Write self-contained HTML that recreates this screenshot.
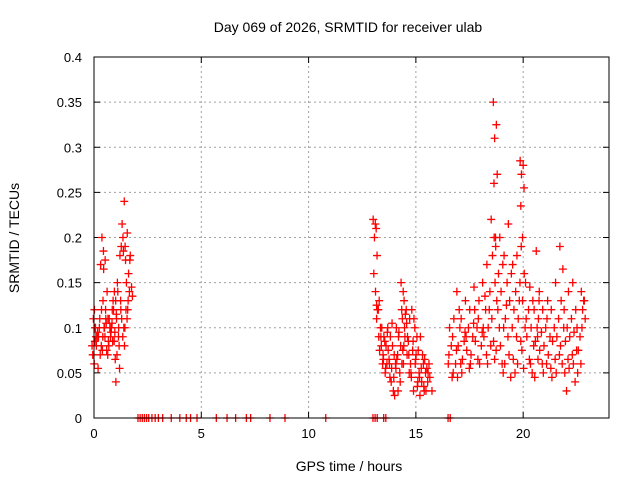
<!DOCTYPE html>
<html><head><meta charset="utf-8"><style>
html,body{margin:0;padding:0;background:#fff;}
svg{display:block;font-family:"Liberation Sans",sans-serif;}
</style></head><body>
<svg id="chart" width="640" height="480">
<rect width="640" height="480" fill="#fff"/>
<text x="348" y="32" font-size="14" text-anchor="middle">Day 069 of 2026, SRMTID for receiver ulab</text>
<text transform="translate(19,238) rotate(-90)" font-size="14" text-anchor="middle">SRMTID / TECUs</text>
<text x="349" y="471" font-size="14" text-anchor="middle">GPS time / hours</text>
<g id="grid"></g>
<g id="ticks"></g>
<g id="marks"></g>
<rect x="94" y="57" width="515" height="361" fill="none" stroke="#000" stroke-width="1"/>
</svg>
<script>
const xTicks=[0,5,10,15,20];
const yTicks=[0,0.05,0.1,0.15,0.2,0.25,0.3,0.35,0.4];
const yTickLabels=["0","0.05","0.1","0.15","0.2","0.25","0.3","0.35","0.4"];
const zeroHours=[2.05,2.15,2.25,2.35,2.45,2.55,2.7,2.85,3.0,3.2,3.6,4.0,4.3,4.5,4.8,5.7,6.2,6.6,7.1,7.3,8.2,8.9,10.8,13.0,13.1,13.2,13.5,13.6,16.5,16.6];
const groupHours=[0.0,0.1,0.2,0.3,0.4,0.5,0.6,0.7,0.8,0.9,1.0,1.1,1.2,1.3,1.4,1.5,1.6,1.7,
13.1,13.2,13.3,13.4,13.5,13.6,13.7,13.8,13.9,14.0,14.1,14.2,14.3,14.4,14.5,14.6,14.7,14.8,14.9,15.0,15.1,15.2,15.3,15.4,15.5,15.6,15.7,
16.6,16.8,17.0,17.2,17.4,17.6,17.8,18.0,18.2,18.4,18.6,18.7,18.8,19.0,19.2,19.4,19.6,19.8,19.95,20.0,20.2,20.4,20.6,20.7,20.8,21.0,21.2,21.4,21.6,21.8,22.0,22.2,22.4,22.6,22.8];
const groupValues=[
[.08,.1,.11,.09,.07,.12],[.06,.09,.1,.055,.085],[.08,.1,.095,.07],[.09,.12,.11,.075],[.17,.165,.2,.1,.08,.13],[.09,.11,.1,.075,.185,.175],[.09,.11,.105,.08,.12],[.14,.1,.085,.095,.07],[.11,.12,.09,.13,.1],[.1,.14,.085,.065,.105],[.12,.11,.095,.15,.085,.04],[.13,.1,.07,.055,.115],[.14,.12,.08,.11,.09],[.18,.2,.19,.1,.13],[.215,.19,.185,.12,.09,.08],[.24,.205,.175,.13,.1],[.15,.14,.12,.18,.11],[.16,.145,.175,.135],
[.22,.21,.2,.18,.16,.14,.125],[.215,.12,.11,.13],[.12,.1,.09,.08],[.075,.06,.09,.065],[.1,.085,.07,.055],[.09,.06,.05,.1],[.08,.065,.095,.045],[.075,.04,.06,.105],[.09,.03,.055,.07],[.08,.06,.045,.1],[.025,.07,.055,.09],[.065,.05,.03,.08],[.095,.06,.04,.075],[.15,.13,.11,.09,.12,.06],[.14,.12,.1,.07,.08],[.115,.085,.105,.05],[.09,.06,.07,.045],[.11,.075,.05,.03],[.12,.1,.085,.065],[.11,.09,.06,.04],[.07,.05,.035,.025],[.075,.055,.045],[.09,.06,.04,.03],[.07,.05,.035],[.065,.04,.03],[.055,.045,.05],[.06,.03],
[.06,.08,.1,.045,.07],[.09,.06,.11,.075,.05],[.14,.1,.08,.06,.045,.12],[.11,.085,.065,.095,.05],[.13,.1,.075,.055,.09],[.12,.09,.07,.105,.06],[.145,.1,.085,.065,.12],[.11,.08,.06,.095,.13],[.15,.12,.09,.07,.1,.135],[.17,.14,.1,.08,.06,.12],[.22,.2,.18,.15,.11,.085,.065],[.35,.325,.31,.27,.26,.19],[.2,.16,.13,.1,.075,.12],[.2,.17,.14,.1,.08,.06,.05],[.18,.15,.11,.09,.06,.125],[.215,.16,.13,.1,.07,.045],[.17,.14,.12,.09,.065,.05],[.18,.15,.11,.085,.06,.13],[.285,.28,.27,.255,.235,.2],[.19,.16,.13,.1,.075,.055],[.15,.12,.09,.065,.11],[.145,.13,.1,.08,.06,.05],[.12,.1,.085,.065,.045],[.185,.14,.09],[.11,.095,.075,.06,.13],[.12,.1,.08,.06,.05],[.11,.09,.07,.055,.13],[.12,.1,.085,.065,.045],[.15,.11,.09,.07,.05],[.19,.165,.13,.1,.08,.06],[.12,.1,.085,.065,.05,.03],[.14,.11,.09,.07,.055],[.15,.12,.095,.075,.06,.04],[.1,.09,.075,.06,.05],[.14,.13,.12,.11,.1,.13]];

const X0=94,X1=609,Y0=418,Y1=57,XMAX=24,YMAX=0.4;
function sx(h){return X0+(X1-X0)*h/XMAX;}
function sy(v){return Y0-(Y0-Y1)*v/YMAX;}
const NS="http://www.w3.org/2000/svg";
function mk(t,a,p){const e=document.createElementNS(NS,t);for(const k in a)e.setAttribute(k,a[k]);p.appendChild(e);return e;}
const grid=document.getElementById('grid'),ticks=document.getElementById('ticks'),marks=document.getElementById('marks');
xTicks.forEach(t=>{const x=sx(t);
 if(t>0){const g=mk('line',{x1:x,x2:x,y1:Y0,y2:Y1,stroke:'#a0a0a0','stroke-dasharray':'2,3'},grid);
 
 }
 mk('line',{x1:x,x2:x,y1:Y0,y2:Y0-6,stroke:'#000'},ticks);
 mk('line',{x1:x,x2:x,y1:Y1,y2:Y1+6,stroke:'#000'},ticks);
 const l=mk('text',{x:x,y:Y0+20,'font-size':13,'text-anchor':'middle'},ticks);l.textContent=t;
 
 
});
yTicks.forEach((t,i)=>{const y=sy(t);
 if(t>0&&t<YMAX){const g=mk('line',{x1:X0,x2:X1,y1:y,y2:y,stroke:'#a0a0a0','stroke-dasharray':'2,3'},grid);
 
 }
 mk('line',{x1:X0,x2:X0+6,y1:y,y2:y,stroke:'#000'},ticks);
 mk('line',{x1:X1,x2:X1-6,y1:y,y2:y,stroke:'#000'},ticks);
 const l=mk('text',{x:X0-12,y:y+5,'font-size':13,'text-anchor':'end'},ticks);l.textContent=yTickLabels[i];
 
 
});
function plus(h,v){const x=sx(h),y=sy(v);
 const p=mk('path',{d:`M${x-4},${y}H${x+4}M${x},${y-4}V${y+4}`,stroke:'#f00','stroke-width':1.3,fill:'none'},marks);
 
 }
zeroHours.forEach(h=>plus(h,0));
const offs=[-0.09,0.05,-0.03,0.09,-0.06,0.02,0.07];
groupHours.forEach((h,i)=>groupValues[i].forEach((v,j)=>plus(h+offs[j%offs.length],v)));
</script>
</body></html>
